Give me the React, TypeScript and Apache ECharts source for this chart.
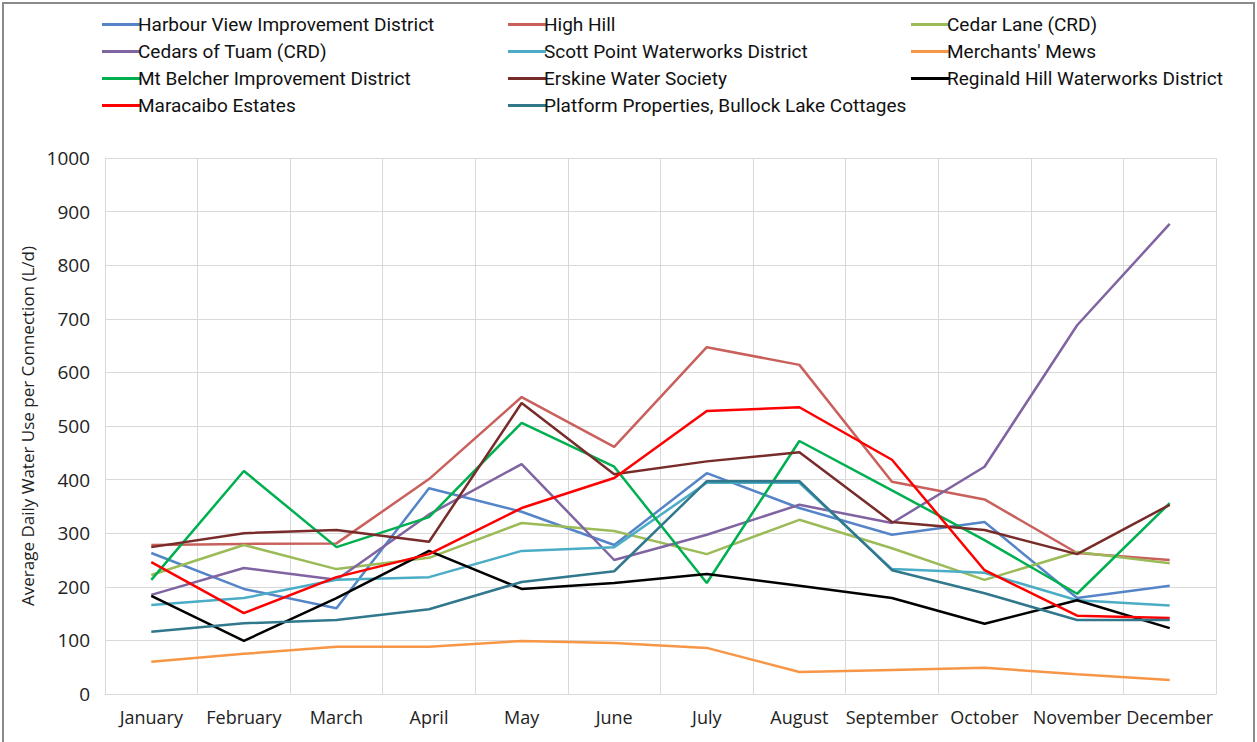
import React, { useEffect, useRef } from "react";
import * as echarts from "echarts";

const months = [
  "January", "February", "March", "April", "May", "June",
  "July", "August", "September", "October", "November", "December",
];

const harbourView = [263, 196, 160, 384, 340, 278, 412, 347, 297, 321, 179, 202];
const highHill = [278, 280, 281, 401, 554, 461, 647, 614, 396, 363, 263, 250];
const cedarLane = [222, 278, 233, 254, 319, 304, 261, 325, 272, 213, 265, 244];
const cedarsOfTuam = [185, 235, 213, 335, 429, 250, 297, 353, 319, 424, 688, 877];
const scottPoint = [166, 179, 213, 218, 267, 274, 394, 394, 233, 226, 175, 165];
const merchantsMews = [60, 75, 88, 88, 99, 95, 86, 41, 45, 49, 37, 26];
const mtBelcher = [213, 416, 274, 330, 506, 424, 207, 472, 380, 287, 187, 356];
const erskine = [274, 300, 306, 284, 543, 410, 434, 451, 321, 306, 261, 353];
const reginaldHill = [183, 99, 179, 267, 196, 207, 224, 202, 179, 131, 175, 123];
const maracaibo = [246, 151, 218, 261, 347, 403, 528, 535, 437, 231, 146, 142];
const platform = [116, 132, 138, 158, 209, 229, 397, 397, 231, 188, 138, 138];

const seriesNames = [
  "Harbour View Improvement District",
  "High Hill",
  "Cedar Lane (CRD)",
  "Cedars of Tuam (CRD)",
  "Scott Point Waterworks District",
  "Merchants' Mews",
  "Mt Belcher Improvement District",
  "Erskine Water Society",
  "Reginald Hill Waterworks District",
  "Maracaibo Estates",
  "Platform Properties, Bullock Lake Cottages",
];

const seriesValues = [
  harbourView, highHill, cedarLane, cedarsOfTuam, scottPoint, merchantsMews,
  mtBelcher, erskine, reginaldHill, maracaibo, platform,
];

const seriesColors = [
  "#5585C8", "#C9605C", "#9BBB59", "#8064A2", "#4BACC6", "#F79646",
  "#00B050", "#772C2A", "#000000", "#FF0000", "#31788C",
];

const yTicks = [0, 100, 200, 300, 400, 500, 600, 700, 800, 900, 1000];

const FONT = "'Open Sans', 'Noto Sans', sans-serif";

export default function App() {
  const ref = useRef<HTMLDivElement>(null);

  useEffect(() => {
    if (!ref.current) return;
    const chart = echarts.init(ref.current, null, { renderer: "svg" });

    const legendBase = {
      orient: "vertical" as const,
      top: 10,
      itemGap: 8,
      itemWidth: 38,
      itemHeight: 3,
      icon: "rect",
      textStyle: {
        fontFamily: "Roboto, sans-serif",
        fontSize: 19,
        color: "#111",
        padding: [0, 0, 0, -7],
      },
    };

    chart.setOption({
      animation: false,
      backgroundColor: "#fff",
      graphic: [
        {
          type: "rect",
          shape: { x: 3, y: 3, width: 1251, height: 760 },
          style: { fill: "none", stroke: "#8a8a8a", lineWidth: 2 },
          silent: true,
        },
      ],
      legend: [
        { ...legendBase, left: 97, data: [0, 3, 6, 9].map((i) => seriesNames[i]) },
        { ...legendBase, left: 503, data: [1, 4, 7, 10].map((i) => seriesNames[i]) },
        { ...legendBase, left: 906, data: [2, 5, 8].map((i) => seriesNames[i]) },
      ],
      grid: { left: 105, right: 41, top: 158, bottom: 48, containLabel: false },
      xAxis: {
        type: "category",
        data: months,
        boundaryGap: true,
        axisLine: { lineStyle: { color: "#D9D9D9", width: 1 } },
        axisTick: { show: false },
        splitLine: { show: true, lineStyle: { color: "#D9D9D9", width: 1 } },
        axisLabel: {
          color: "#222",
          fontFamily: FONT,
          fontSize: 18,
          margin: 14,
          interval: 0,
        },
      },
      yAxis: {
        type: "value",
        min: yTicks[0],
        max: yTicks[yTicks.length - 1],
        interval: 100,
        name: "Average Daily Water Use per Connection (L/d)",
        nameLocation: "middle",
        nameGap: 67,
        nameRotate: 90,
        nameTextStyle: { color: "#222", fontFamily: FONT, fontSize: 17 },
        axisLine: { show: true, lineStyle: { color: "#D9D9D9", width: 1 } },
        axisTick: { show: false },
        splitLine: { show: true, lineStyle: { color: "#D9D9D9", width: 1 } },
        axisLabel: {
          color: "#222",
          fontFamily: FONT,
          fontSize: 19,
          margin: 15,
          formatter: (v: number) => String(v),
        },
      },
      series: seriesNames.map((name, i) => ({
        name,
        type: "line",
        data: seriesValues[i],
        color: seriesColors[i],
        symbol: "none",
        lineStyle: { width: 2.5, color: seriesColors[i] },
        itemStyle: { color: seriesColors[i] },
      })),
    });

    return () => chart.dispose();
  }, []);

  return (
    <div
      ref={ref}
      style={{ position: "fixed", left: 0, top: 0, width: 1257, height: 742 }}
    />
  );
}
